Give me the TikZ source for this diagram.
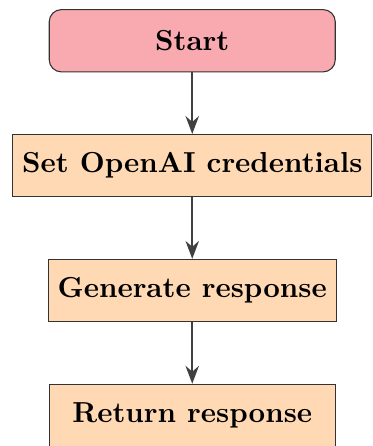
\documentclass[tikz,border=0pt]{standalone}
\usepackage{tikz}
\usetikzlibrary{arrows.meta, positioning}
\usepackage{xcolor}
\definecolor{start-pink}{RGB}{249,170,177}
\definecolor{step-peach}{RGB}{254,217,180}

\begin{document}
\begin{tikzpicture}[
  >=Stealth,
  box/.style={draw=black!80, minimum width=3.72cm, minimum height=0.81cm,
              align=center, font=\fontsize{10.7}{13}\selectfont\bfseries,
              inner sep=3.5pt},
  startbox/.style={box, rounded corners=4.5pt, fill=start-pink},
  process/.style={box, fill=step-peach},
  arrow/.style={->, thick, draw=black!75},
  node distance=0.8cm,
]
\useasboundingbox (0,0) rectangle (4.84,-5.80);
\node[startbox] (start) at (2.50,-0.53) {Start};
\node[process, below=of start]  (cred) {Set OpenAI credentials};
\node[process, below=of cred]   (gen)  {Generate response};
\node[process, below=of gen]    (ret)  {Return response};

\foreach \a/\b in {start/cred, cred/gen, gen/ret}
  \draw[arrow] (\a) -- (\b);
\end{tikzpicture}
\end{document}
